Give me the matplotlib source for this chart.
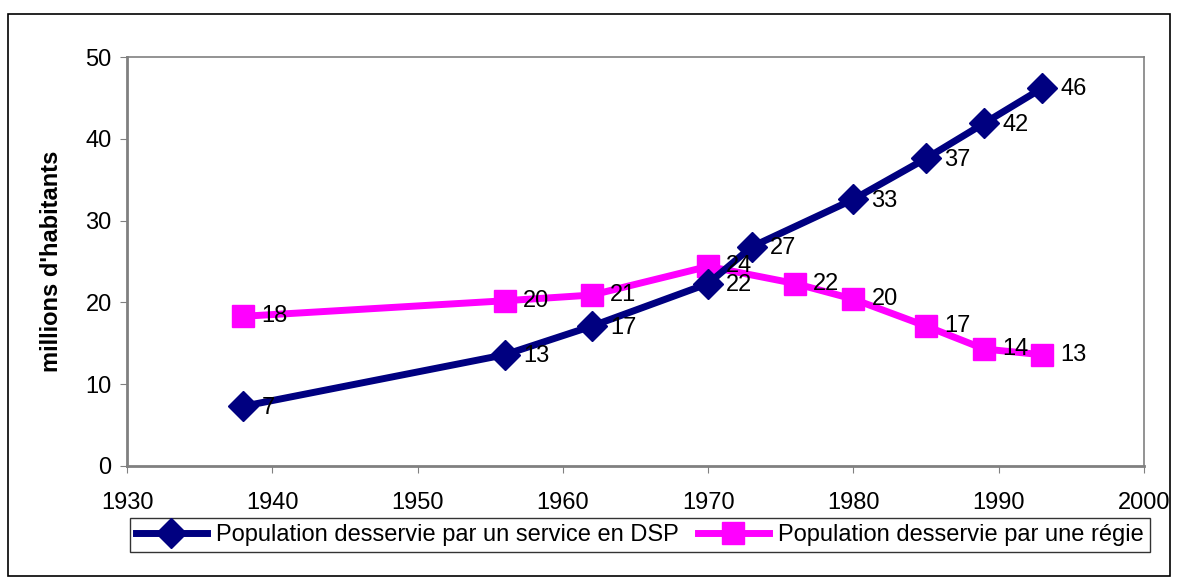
import matplotlib
matplotlib.use("Agg")
from matplotlib import pyplot as plt
from matplotlib.patches import Rectangle

plt.rcParams['font.family'] = ['Liberation Sans', 'DejaVu Sans']

years_dsp = [1938, 1956, 1962, 1970, 1973, 1980, 1985, 1989, 1993]
pop_dsp = [7.3, 13.6, 17.1, 22.3, 26.8, 32.6, 37.6, 41.9, 46.2]
labels_dsp = ['7', '13', '17', '22', '27', '33', '37', '42', '46']

years_regie = [1938, 1956, 1962, 1970, 1976, 1980, 1985, 1989, 1993]
pop_regie = [18.3, 20.2, 20.9, 24.4, 22.3, 20.4, 17.1, 14.3, 13.6]
labels_regie = ['18', '20', '21', '24', '22', '20', '17', '14', '13']

fig = plt.figure(figsize=(11.79, 5.81), dpi=100)
fig.patches.append(Rectangle((8 / 1179, 1 - 576 / 581), 1162 / 1179, 562 / 581,
                             transform=fig.transFigure, fill=False, edgecolor='black', lw=1.2))
ax = fig.add_axes([127 / 1179, 1 - 466 / 581, (1144 - 127) / 1179, (466 - 57) / 581])

l1, = ax.plot(years_dsp, pop_dsp, color='#000080', lw=5, marker='D', markersize=15,
              label='Population desservie par un service en DSP', zorder=3)
l2, = ax.plot(years_regie, pop_regie, color='#FF00FF', lw=5, marker='s', markersize=16,
              label='Population desservie par une régie', zorder=2)

for x, y, t in zip(years_dsp, pop_dsp, labels_dsp):
    ax.annotate(t, (x, y), xytext=(13, -1), textcoords='offset points', va='center', ha='left',
                fontsize=17, zorder=4)
for x, y, t in zip(years_regie, pop_regie, labels_regie):
    ax.annotate(t, (x, y), xytext=(13, 0), textcoords='offset points', va='center', ha='left',
                fontsize=17, zorder=4)

ax.set_xlim(1930, 2000)
ax.set_ylim(0, 50)
ax.set_xticks(range(1930, 2001, 10))
ax.set_yticks(range(0, 51, 10))
ax.tick_params(labelsize=17, direction='out', length=5, color='#808080', pad=6)
ax.tick_params(axis='x', pad=14)
for s in ax.spines.values():
    s.set_color('#808080')
ax.spines['left'].set_linewidth(2)
ax.spines['bottom'].set_linewidth(2)
ax.spines['top'].set_linewidth(1.2)
ax.spines['right'].set_linewidth(1.2)
ax.set_ylabel("millions d'habitants", fontsize=17, fontweight='bold', labelpad=16)

leg = fig.legend(handles=[l1, l2], loc='center', bbox_to_anchor=(640 / 1179, 1 - 535 / 581),
                 ncol=2, fontsize=17, frameon=True, fancybox=False, edgecolor='black',
                 handlelength=3.0, columnspacing=0.8, handletextpad=0.4, borderpad=0.25)
leg.get_frame().set_linewidth(1)

fig.savefig('out.png', dpi=100)
